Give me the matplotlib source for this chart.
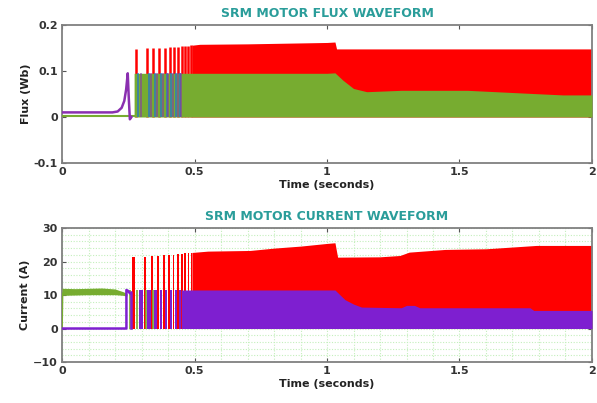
import numpy as np
import matplotlib
matplotlib.use("Agg")
import matplotlib.pyplot as plt

# ---- colours ----
RED = "#ff0000"
GREEN = "#77ac30"
PURPLE = "#7e1fd0"
FPURPLE = "#8a2fb0"
BLUE = "#1f6fd8"
TEAL = "#2a9d9a"

# ---- flux plot data ----
flux_purple_t = [0, 0.19, 0.21, 0.225, 0.235, 0.242, 0.248, 0.252, 0.256, 0.262]
flux_purple_v = [0.01, 0.01, 0.012, 0.02, 0.035, 0.06, 0.095, 0.04, -0.005, 0.0]
flux_green_base_t = [0, 0.272]
flux_green_base_v = [0.003, 0.003]

flux_red_spike_t = [0.279, 0.319, 0.344, 0.367, 0.388, 0.406, 0.423, 0.438,
                    0.452, 0.465, 0.477, 0.488]
flux_red_spike_h = [0.148, 0.149, 0.150, 0.151, 0.151, 0.152, 0.153, 0.153,
                    0.154, 0.155, 0.155, 0.156]
flux_blue_spike_t = [0.288, 0.327, 0.352, 0.374, 0.395, 0.413, 0.430, 0.445]
flux_purple_spike_t = [0.298, 0.336, 0.360, 0.382, 0.401, 0.419, 0.436, 0.450]
flux_spike_h = 0.095

flux_red_env_t = [0.49, 0.52, 0.7, 0.9, 1.0, 1.03, 1.036, 1.5, 2.0]
flux_red_env_v = [0.156, 0.158, 0.159, 0.161, 0.162, 0.163, 0.148, 0.148, 0.148]
flux_green_env_t = [0.272, 0.5, 1.0, 1.03, 1.06, 1.1, 1.15, 1.28, 1.53, 1.78, 1.89, 2.0]
flux_green_env_v = [0.095, 0.095, 0.095, 0.096, 0.08, 0.062, 0.055, 0.058, 0.058,
                    0.051, 0.048, 0.048]

# ---- current plot data ----
cur_green_t = [0.0, 0.05, 0.1, 0.15, 0.2, 0.23, 0.245]
cur_green_lo = [9.9, 10.0, 10.1, 10.1, 10.1, 9.9, 9.7]
cur_green_hi = [12.0, 11.9, 12.0, 12.1, 11.8, 11.0, 10.5]
cur_purple_start_t = [0.0, 0.243, 0.243, 0.25, 0.256, 0.262, 0.262]
cur_purple_start_v = [0.0, 0.0, 11.5, 11.2, 10.5, 10.8, 0.0]

cur_red_pulse_t = [0.265, 0.31, 0.337, 0.36, 0.381, 0.40, 0.418, 0.434,
                   0.449, 0.462, 0.474, 0.486]
cur_red_pulse_h = [21.3, 21.2, 21.5, 21.6, 21.8, 22.0, 22.0, 22.2,
                   22.3, 22.4, 22.5, 22.6]
cur_red_pulse_w = [0.012, 0.008, 0.008, 0.007, 0.007, 0.006, 0.006, 0.006,
                   0.006, 0.006, 0.006, 0.006]
cur_purple_pulse_t = [0.29, 0.322, 0.348, 0.369, 0.389, 0.407, 0.425, 0.441]
cur_purple_pulse_w = [0.016, 0.013, 0.011, 0.010, 0.009, 0.009, 0.008, 0.008]
cur_purple_h = 11.5
cur_green_pulse_t = [0.255, 0.283, 0.318, 0.345]

cur_red_env_t = [0.49, 0.55, 0.71, 0.8, 0.9, 1.0, 1.03, 1.04, 1.2, 1.275,
                 1.31, 1.445, 1.6, 1.79, 2.0]
cur_red_env_v = [22.7, 23.1, 23.3, 24.0, 24.6, 25.4, 25.6, 21.3, 21.4, 21.8,
                 22.8, 23.6, 23.8, 24.8, 24.8]
cur_purple_env_t = [0.45, 0.6, 1.0, 1.03, 1.068, 1.1, 1.13, 1.28, 1.30, 1.33,
                    1.35, 1.766, 1.78, 2.0]
cur_purple_env_v = [11.5, 11.5, 11.5, 11.5, 8.6, 7.3, 6.4, 6.2, 6.9, 6.9,
                    6.2, 6.2, 5.4, 5.4]


def style_axes(ax, ylim, yticks, ylabel, title):
    ax.set_xlim(0, 2)
    ax.set_ylim(*ylim)
    ax.set_xticks([0, 0.5, 1, 1.5, 2])
    ax.set_xticklabels(["0", "0.5", "1", "1.5", "2"])
    ax.set_yticks(yticks)
    ax.tick_params(direction="in", top=True, right=True, length=3,
                   color="#555555", labelsize=8, labelcolor="#333333", pad=3)
    for lab in ax.get_xticklabels() + ax.get_yticklabels():
        lab.set_fontweight("bold")
    for s in ax.spines.values():
        s.set_color("#808080")
        s.set_linewidth(1.3)
    ax.set_xlabel("Time (seconds)", fontsize=8, fontweight="bold",
                  color="#222222", labelpad=2)
    ax.set_ylabel(ylabel, fontsize=8, fontweight="bold", color="#222222",
                  labelpad=2)
    ax.set_title(title, fontsize=9, fontweight="bold", color=TEAL, pad=6)


fig = plt.figure(figsize=(5.97, 4.03), dpi=100)
ax1 = fig.add_axes([0.1039, 0.5955, 0.8877, 0.3425])
ax2 = fig.add_axes([0.1039, 0.1017, 0.8877, 0.3325])

# ---- flux ----
ax1.vlines(flux_red_spike_t, 0, flux_red_spike_h, color=RED, lw=1.8, zorder=2)
ax1.fill_between(flux_red_env_t, 0, flux_red_env_v, color=RED, lw=0, zorder=2)
ax1.fill_between(flux_green_env_t, 0, flux_green_env_v, color=GREEN, lw=0, zorder=3)
ax1.plot(flux_green_base_t, flux_green_base_v, color=GREEN, lw=1.5, zorder=3)
ax1.vlines(flux_blue_spike_t, 0, flux_spike_h, color=BLUE, lw=1.3, alpha=0.7, zorder=4)
ax1.vlines(flux_purple_spike_t, 0, flux_spike_h, color=FPURPLE, lw=1.3, alpha=0.6, zorder=4)
ax1.plot(flux_purple_t, flux_purple_v, color=FPURPLE, lw=1.8, zorder=5)
style_axes(ax1, (-0.1, 0.2), [-0.1, 0, 0.1, 0.2], "Flux (Wb)",
           "SRM MOTOR FLUX WAVEFORM")
ax1.set_yticklabels(["-0.1", "0", "0.1", "0.2"])
for lab in ax1.get_yticklabels():
    lab.set_fontweight("bold")

# ---- current ----
ax2.set_xticks(np.arange(0, 2.01, 0.1), minor=True)
ax2.set_yticks(np.arange(-10, 30.1, 2), minor=True)
ax2.grid(which="both", linestyle=(0, (1, 1.5)), color="#c4efbc", lw=0.8, zorder=0)
ax2.tick_params(which="minor", length=0)
ax2.set_axisbelow(True)

ax2.bar(cur_red_pulse_t, cur_red_pulse_h, width=cur_red_pulse_w, align="edge",
        color=RED, lw=0, zorder=2)
ax2.fill_between(cur_red_env_t, 0, cur_red_env_v, color=RED, lw=0, zorder=2)
ax2.bar(cur_purple_pulse_t, cur_purple_h, width=cur_purple_pulse_w, align="edge",
        color=PURPLE, lw=0, zorder=3)
ax2.fill_between(cur_purple_env_t, 0, cur_purple_env_v, color=PURPLE, lw=0, zorder=3)
ax2.vlines(cur_green_pulse_t, 0, cur_purple_h, color=GREEN, lw=1.2, zorder=4)
ax2.fill_between(cur_green_t, cur_green_lo, cur_green_hi, color=GREEN, lw=0, zorder=4)
ax2.plot([0, 0.002], [0, 10.5], color=GREEN, lw=1.2, zorder=4)
ax2.plot(cur_purple_start_t, cur_purple_start_v, color=PURPLE, lw=1.8, zorder=5)
style_axes(ax2, (-10, 30), [-10, 0, 10, 20, 30], "Current (A)",
           "SRM MOTOR CURRENT WAVEFORM")

fig.savefig("out.png", dpi=100, facecolor="white")
